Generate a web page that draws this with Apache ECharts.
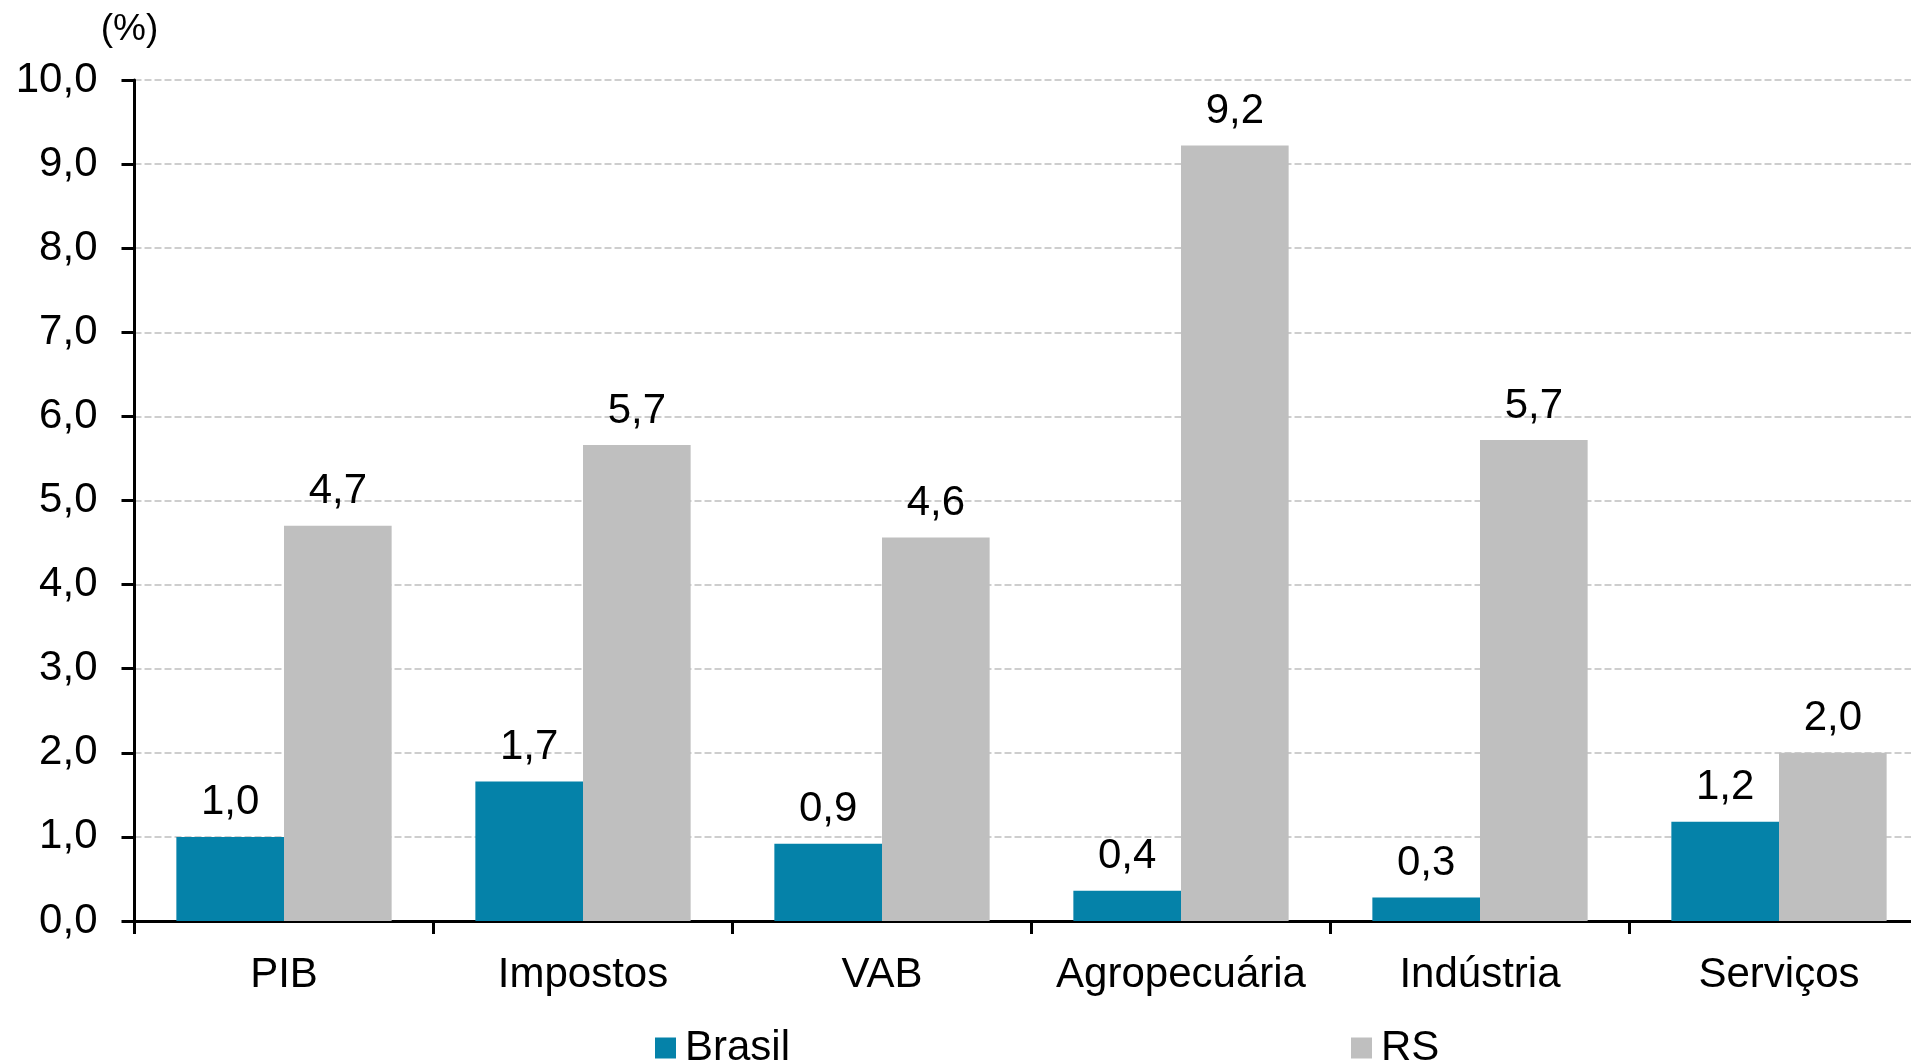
<!DOCTYPE html>
<html>
<head>
<meta charset="utf-8">
<script src="https://cdn.jsdelivr.net/npm/echarts@6/dist/echarts.min.js"></script>
<style>
html,body{margin:0;padding:0;background:#fff;overflow:hidden;}
#chart{width:1940px;height:1064px;}
</style>
</head>
<body>
<div id="chart"></div>
<script>
const categories = ['PIB', 'Impostos', 'VAB', 'Agropecuária', 'Indústria', 'Serviços'];
const brasil = [1.0, 1.66, 0.92, 0.36, 0.28, 1.18];
const rs = [4.7, 5.66, 4.56, 9.22, 5.72, 2.0];
const seriesNames = ['Brasil', 'RS'];
const yTicks = [0, 1, 2, 3, 4, 5, 6, 7, 8, 9, 10];

const FONT = '"Liberation Sans", Arial, sans-serif';
const fmt = v => Number(v).toFixed(1).replace('.', ',');

const chart = echarts.init(document.getElementById('chart'));
chart.setOption({
  animation: false,
  backgroundColor: '#ffffff',
  textStyle: { fontFamily: FONT, color: '#000' },
  grid: { left: 134.5, width: 1794, top: 80, bottom: 143, containLabel: false, outerBoundsMode: 'none' },
  legend: [
    {
      data: [seriesNames[0]], left: 655, top: 1027, icon: 'rect', padding: 0,
      itemWidth: 21, itemHeight: 21,
      textStyle: { fontSize: 42, fontFamily: FONT, color: '#000', padding: [0, 0, 0, 4] }
    },
    {
      data: [seriesNames[1]], left: 1351, top: 1027, icon: 'rect', padding: 0,
      itemWidth: 21, itemHeight: 21,
      textStyle: { fontSize: 42, fontFamily: FONT, color: '#000', padding: [0, 0, 0, 4] }
    }
  ],
  xAxis: {
    type: 'category',
    data: categories,
    axisLine: { lineStyle: { color: '#000', width: 3 } },
    axisTick: { show: true, length: 13, lineStyle: { color: '#000', width: 3 } },
    axisLabel: { fontSize: 42, fontFamily: FONT, color: '#000', margin: 33, interval: 0 },
    splitLine: { show: false }
  },
  yAxis: {
    type: 'value',
    min: yTicks[0], max: yTicks[yTicks.length - 1], interval: 1,
    name: '(%)',
    nameLocation: 'end',
    nameGap: 32,
    nameTextStyle: { fontSize: 37, fontFamily: FONT, color: '#000', padding: [0, 10, 0, 0] },
    axisLine: { show: true, lineStyle: { color: '#000', width: 3 } },
    axisTick: { show: true, length: 13, lineStyle: { color: '#000', width: 3 } },
    axisLabel: { fontSize: 42, fontFamily: FONT, color: '#000', margin: 37, formatter: v => fmt(v) },
    splitLine: { show: true, lineStyle: { color: '#BFBFBF', width: 1.5, type: [7, 3] } }
  },
  series: [
    {
      name: seriesNames[0], type: 'bar', data: brasil,
      barGap: '0%', barCategoryGap: '28%',
      itemStyle: { color: '#0582A9' },
      label: { show: true, position: 'top', distance: 13, fontSize: 42, fontFamily: FONT, color: '#000', formatter: p => fmt(p.value) }
    },
    {
      name: seriesNames[1], type: 'bar', data: rs,
      barGap: '0%', barCategoryGap: '28%',
      itemStyle: { color: '#BFBFBF' },
      label: { show: true, position: 'top', distance: 13, fontSize: 42, fontFamily: FONT, color: '#000', formatter: p => fmt(p.value) }
    }
  ]
});
</script>
</body>
</html>
